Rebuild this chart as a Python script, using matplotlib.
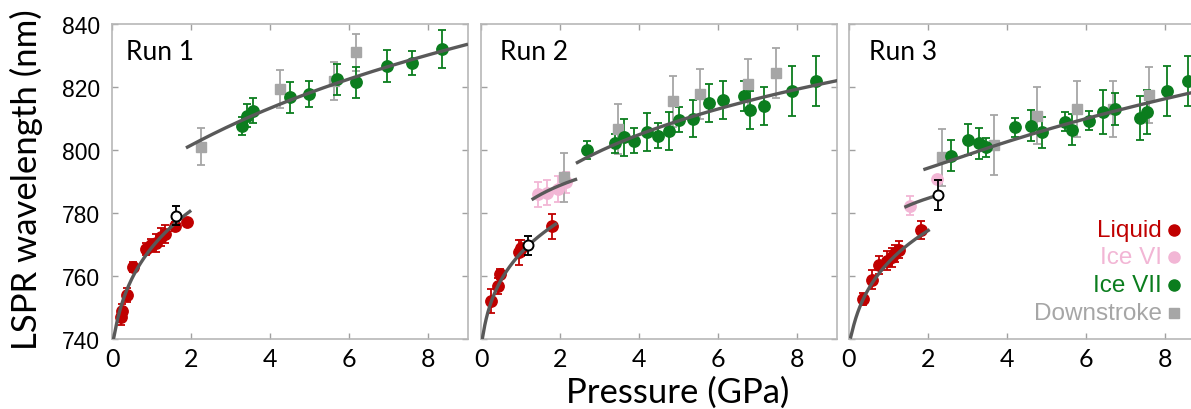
import numpy as np
import matplotlib
matplotlib.use('Agg')
import matplotlib.pyplot as plt

plt.rcParams['font.family'] = ['Lato', 'DejaVu Sans']

# 颜色
RED = '#c00000'
PINK = '#f2b6d5'
GREEN = '#0b7d1e'
GREY = '#a6a6a6'
FIT = '#595959'

# ---------- Run 1 ----------
run1_liq_p = [0.22, 0.25, 0.39, 0.53, 0.87, 0.98, 1.10, 1.25, 1.33, 1.59, 1.90]
run1_liq_nm = [746.9, 749.0, 754.0, 762.8, 768.6, 769.8, 770.5, 772.3, 773.3, 775.8, 777.0]
run1_liq_err = [2.6, 2.2, 2.2, 1.5, 1.8, 2.0, 2.8, 2.8, 2.8, 1.5, 1.2]
run1_vii_p = [3.28, 3.41, 3.56, 4.49, 4.97, 5.69, 6.17, 6.95, 7.59, 8.35]
run1_vii_nm = [807.7, 810.9, 812.5, 816.7, 817.8, 822.5, 821.5, 826.6, 827.6, 832.1]
run1_vii_err = [2.8, 3.7, 3.9, 5.0, 4.0, 4.9, 5.0, 5.0, 3.9, 6.1]
run1_down_p = [2.25, 4.24, 5.62, 6.17]
run1_down_nm = [801.1, 819.4, 822.0, 831.0]
run1_down_err = [6.0, 6.0, 6.0, 5.8]
run1_open = (1.63, 779.2, 3.0)
# 拟合曲线（从图上读的点）
run1_fit_liq_p = [0.03, 0.15, 0.28, 0.53, 0.98, 1.42, 2.0]
run1_fit_liq_nm = [740.0, 745.8, 751.7, 761.4, 769.1, 774.6, 780.2]
run1_fit_vii_p = [1.87, 3.0, 4.97, 7.04, 9.0]
run1_fit_vii_nm = [800.6, 808.0, 817.8, 826.8, 833.6]

# ---------- Run 2 ----------
run2_liq_p = [0.26, 0.43, 0.48, 0.96, 1.01, 1.79]
run2_liq_nm = [752.2, 756.9, 760.6, 767.5, 768.8, 775.8]
run2_liq_err = [3.8, 2.5, 1.5, 4.0, 2.5, 4.0]
run2_vi_p = [1.43, 1.66, 1.94, 2.15]
run2_vi_nm = [785.9, 786.4, 787.6, 789.7]
run2_vi_err = [4.1, 4.0, 4.0, 3.2]
run2_vii_p = [2.68, 3.40, 3.61, 3.86, 4.20, 4.48, 4.75, 5.00, 5.37, 5.77, 6.11,
              6.64, 6.81, 7.15, 7.87, 8.47]
run2_vii_nm = [800.0, 802.2, 804.0, 803.0, 805.6, 804.6, 806.1, 809.6, 810.0, 814.9,
               815.9, 817.2, 812.8, 813.9, 818.8, 822.0]
run2_vii_err = [3.0, 3.0, 6.0, 4.0, 6.0, 4.0, 6.0, 4.0, 6.0, 6.0, 6.0, 4.7, 6.0, 6.0,
                8.0, 8.0]
run2_down_p = [2.09, 3.46, 4.86, 5.54, 6.76, 7.47]
run2_down_nm = [791.3, 806.7, 815.4, 817.8, 821.0, 824.4]
run2_down_err = [7.9, 8.0, 8.0, 8.0, 8.0, 8.0]
run2_open = (1.18, 769.8, 3.0)
run2_fit_liq_p = [0.03, 0.135, 0.26, 0.43, 0.77, 1.18, 1.62, 1.92]
run2_fit_liq_nm = [740.0, 746.3, 751.6, 756.9, 764.3, 769.8, 774.2, 776.2]
run2_fit_vi_p = [1.28, 2.43]
run2_fit_vi_nm = [784.2, 790.8]
run2_fit_vii_p = [2.40, 3.5, 5.07, 6.76, 9.06]
run2_fit_vii_nm = [795.9, 802.2, 809.3, 816.2, 821.9]

# ---------- Run 3 ----------
run3_liq_p = [0.35, 0.59, 0.77, 0.96, 1.09, 1.17, 1.26, 1.81]
run3_liq_nm = [752.7, 758.8, 763.5, 764.9, 765.9, 767.3, 768.4, 774.6]
run3_liq_err = [1.8, 3.0, 3.0, 3.0, 3.0, 2.7, 2.7, 3.0]
run3_vi_p = [1.54, 2.22]
run3_vi_nm = [782.3, 790.8]
run3_vi_err = [3.0, 0.0]
run3_vii_p = [2.59, 3.00, 3.28, 3.46, 4.20, 4.61, 4.89, 5.45, 5.63, 6.06, 6.41,
              6.72, 7.35, 7.54, 8.05, 8.58]
run3_vii_nm = [798.2, 803.3, 802.1, 800.8, 807.2, 807.7, 805.6, 809.0, 806.5, 809.3,
               812.2, 813.0, 810.2, 812.0, 818.8, 822.0]
run3_vii_err = [4.9, 5.0, 5.0, 3.0, 3.0, 5.0, 5.0, 3.0, 5.0, 3.0, 7.0, 5.0, 7.0, 7.0,
                8.0, 8.0]
run3_down_p = [2.34, 3.66, 4.76, 5.76, 6.67, 7.58]
run3_down_nm = [797.7, 801.6, 810.9, 813.0, 813.0, 817.5]
run3_down_err = [9.0, 9.5, 9.0, 9.0, 9.0, 9.0]
run3_open = (2.25, 785.7, 4.8)
run3_fit_liq_p = [0.03, 0.15, 0.33, 0.75, 1.26, 2.04]
run3_fit_liq_nm = [740.0, 746.3, 751.6, 760.6, 767.0, 775.2]
run3_fit_vi_p = [1.40, 2.21]
run3_fit_vi_nm = [781.8, 785.5]
run3_fit_vii_p = [1.88, 3.5, 5.46, 8.70, 9.0]
run3_fit_vii_nm = [793.7, 800.8, 807.9, 818.3, 819.2]

legend_labels = ['Liquid', 'Ice VI', 'Ice VII', 'Downstroke']
legend_colors = [RED, PINK, GREEN, GREY]
legend_markers = ['o', 'o', 'o', 's']

W, H = 1191, 410
fig = plt.figure(figsize=(W / 100, H / 100), dpi=100)


def points(ax, p, nm, err, color, marker='o', ms=8.2, z=3):
    ax.errorbar(p, nm, yerr=err, fmt=marker, color=color, mec=color, ms=ms,
                capsize=2.6, elinewidth=1.3, capthick=1.3, zorder=z)


def open_point(ax, pt):
    ax.errorbar([pt[0]], [pt[1]], yerr=[pt[2]], fmt='o', mfc='white', mec='black',
                color='black', mew=1.4, ms=7.2, capsize=2.6, elinewidth=1.3,
                capthick=1.3, zorder=7)


def fit_line(ax, fp, fnm):
    deg = 2 if len(fp) > 3 else 1
    coef = np.polyfit(np.log(fp), fnm, deg)
    xs = np.linspace(fp[0], fp[-1], 200)
    ax.plot(xs, np.polyval(coef, np.log(xs)), color=FIT, lw=2.4, zorder=6,
            solid_capstyle='butt')


def setup(ax, ylabels):
    ax.set_xlim(0, 9)
    ax.set_ylim(740, 840)
    ax.set_xticks([0, 2, 4, 6, 8])
    ax.set_yticks(range(740, 841, 20))
    for s in ax.spines.values():
        s.set_color('#b8b8b8')
        s.set_linewidth(1.2)
    ax.tick_params(direction='in', length=4, width=1, color='#a0a0a0',
                   top=True, right=True, labelsize=18, pad=6)
    if ylabels:
        ax.tick_params(axis='y', pad=8.5)
        for t in ax.get_yticklabels():
            t.set_fontfamily(['Liberation Sans', 'DejaVu Sans'])
            t.set_fontsize(16.5)
    else:
        ax.set_yticklabels([])


lefts = [112, 481, 849]
axes = []
for l in lefts:
    axes.append(fig.add_axes([l / W, 1 - 340 / H, 356 / W, 315 / H]))

# Run 1
ax = axes[0]
setup(ax, True)
points(ax, run1_down_p, run1_down_nm, run1_down_err, GREY, 's', 7.6)
points(ax, run1_liq_p, run1_liq_nm, run1_liq_err, RED)
points(ax, run1_vii_p, run1_vii_nm, run1_vii_err, GREEN)
open_point(ax, run1_open)
fit_line(ax, run1_fit_liq_p, run1_fit_liq_nm)
fit_line(ax, run1_fit_vii_p, run1_fit_vii_nm)
ax.text(0.039, 0.914, 'Run 1', transform=ax.transAxes, fontsize=19, va='center')

# Run 2
ax = axes[1]
setup(ax, False)
points(ax, run2_vi_p, run2_vi_nm, run2_vi_err, PINK)
points(ax, run2_down_p, run2_down_nm, run2_down_err, GREY, 's', 7.6)
points(ax, run2_liq_p, run2_liq_nm, run2_liq_err, RED)
points(ax, run2_vii_p, run2_vii_nm, run2_vii_err, GREEN)
open_point(ax, run2_open)
fit_line(ax, run2_fit_liq_p, run2_fit_liq_nm)
fit_line(ax, run2_fit_vi_p, run2_fit_vi_nm)
fit_line(ax, run2_fit_vii_p, run2_fit_vii_nm)
ax.text(0.053, 0.914, 'Run 2', transform=ax.transAxes, fontsize=19, va='center')

# Run 3
ax = axes[2]
setup(ax, False)
points(ax, run3_down_p, run3_down_nm, run3_down_err, GREY, 's', 7.6)
points(ax, run3_vi_p, run3_vi_nm, run3_vi_err, PINK)
points(ax, run3_liq_p, run3_liq_nm, run3_liq_err, RED)
points(ax, run3_vii_p, run3_vii_nm, run3_vii_err, GREEN)
open_point(ax, run3_open)
fit_line(ax, run3_fit_liq_p, run3_fit_liq_nm)
fit_line(ax, run3_fit_vi_p, run3_fit_vi_nm)
fit_line(ax, run3_fit_vii_p, run3_fit_vii_nm)
ax.text(0.057, 0.914, 'Run 3', transform=ax.transAxes, fontsize=19, va='center')

# 图例（文字右对齐，标记在右边）
for i in range(4):
    yy = 0.347 - i * 0.088
    ax.text(0.878, yy, legend_labels[i], transform=ax.transAxes, ha='right',
            va='center', color=legend_colors[i], fontsize=17.5,
            family=['Liberation Sans', 'DejaVu Sans'])
    ax.plot([0.913], [yy], marker=legend_markers[i], color=legend_colors[i],
            ms=8 if legend_markers[i] == 'o' else 7, transform=ax.transAxes,
            clip_on=False, zorder=8)

fig.text(26 / W, 1 - 180 / H, 'LSPR wavelength (nm)', rotation=90, ha='center',
         va='center', fontsize=25)
fig.text(678 / W, 1 - 393 / H, 'Pressure (GPa)', ha='center', va='center',
         fontsize=25)

fig.savefig('out.png', dpi=100)
